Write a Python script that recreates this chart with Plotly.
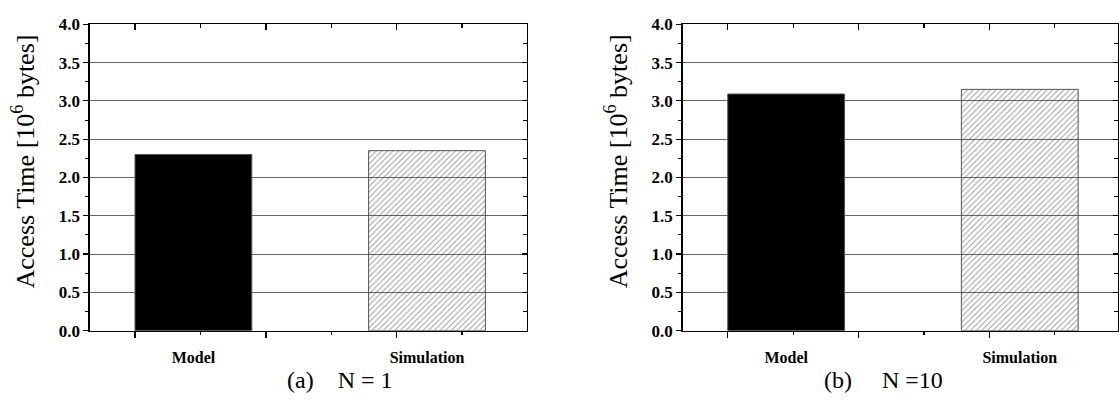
import plotly.graph_objects as go

# ---- data ----
categories = ["Model", "Simulation"]
cat_pos = [1, 2]
values_n1 = [2.30, 2.35]
values_n10 = [3.09, 3.15]
captions = ["(a)\u00a0\u00a0\u00a0\u00a0N = 1", "(b)\u00a0\u00a0\u00a0\u00a0\u00a0N =10"]
y_title = "Access Time [10<sup>6</sup> bytes]"
y_major = [0.0, 0.5, 1.0, 1.5, 2.0, 2.5, 3.0, 3.5, 4.0]
y_minor = [0.25, 0.75, 1.25, 1.75, 2.25, 2.75, 3.25, 3.75]
x_major = [0.75, 1.31, 1.87, 2.43]
x_minor = [1.03, 1.59, 2.15]

W, H = 1119, 406
SERIF = "Liberation Serif"
PX_PER_UNIT = 233.8
X0 = 0.557

fig = go.Figure()

panels = [
    dict(vals=values_n1, left=90.0, right=527.0, cap=captions[0], capx=340),
    dict(vals=values_n10, left=683.3, right=1118.5, cap=captions[1], capx=884),
]
y_top_px, y_bot_px = 16.0, 337.5
ydom = [1 - y_bot_px / H, 1 - y_top_px / H]

for i, p in enumerate(panels):
    k = i + 1
    xa = "x" if k == 1 else "x2"
    ya = "y" if k == 1 else "y2"
    xl = f"x{k + 2}"   # tick marks overlay (bottom)
    xt = f"x{k + 4}"   # top mirror ticks
    yr = f"y{k + 2}"   # right mirror ticks
    xdom = [p["left"] / W, p["right"] / W]
    xr = [X0, X0 + (p["right"] - p["left"]) / PX_PER_UNIT]

    fig.add_trace(go.Bar(
        x=cat_pos, y=p["vals"], width=0.5, xaxis=xa, yaxis=ya,
        marker=dict(
            color=["black", "rgba(0,0,0,0)"],
            line=dict(color="#555555", width=1),
            pattern=dict(shape=["", "/"], fgcolor="#4a4a4a",
                         bgcolor="rgba(0,0,0,0)", size=4, solidity=0.28),
        ),
        showlegend=False, hoverinfo="skip",
    ))
    for ax_x, ax_y in [(xl, ya), (xt, ya), (xa, yr)]:
        fig.add_trace(go.Scatter(x=[], y=[], xaxis=ax_x, yaxis=ax_y,
                                 showlegend=False, hoverinfo="skip"))

    base_x = dict(domain=xdom, range=xr, anchor=ya, showgrid=False, zeroline=False,
                  fixedrange=True)
    base_y = dict(domain=ydom, range=[0, 4], zeroline=False, fixedrange=True)

    # bottom axis: category labels + frame line
    fig.layout[f"xaxis{'' if k == 1 else k}"] = dict(
        base_x, tickvals=cat_pos, ticktext=categories, ticks="",
        showline=True, linecolor="black", linewidth=1.6, mirror=True,
        tickfont=dict(family=SERIF, size=16, color="black", weight="bold"),
        ticklabelstandoff=11,
    )
    # bottom tick marks overlay
    fig.layout[f"xaxis{k + 2}"] = dict(
        base_x, overlaying=xa, side="bottom", tickvals=x_major, ticks="outside",
        ticklen=6, tickwidth=1.4, tickcolor="black", showticklabels=False,
        minor=dict(tickvals=x_minor, ticks="outside", ticklen=3.5, tickwidth=1.2,
                   tickcolor="black"),
        showline=False,
    )
    # top mirror tick marks (inside)
    fig.layout[f"xaxis{k + 4}"] = dict(
        base_x, overlaying=xa, side="top", tickvals=x_major, ticks="inside",
        ticklen=6, tickwidth=1.4, tickcolor="black", showticklabels=False,
        minor=dict(tickvals=x_minor, ticks="inside", ticklen=3.5, tickwidth=1.2,
                   tickcolor="black"),
        showline=False,
    )
    # left y axis
    fig.layout[f"yaxis{'' if k == 1 else k}"] = dict(
        base_y, anchor=xa, tickvals=y_major, tickformat=".1f", ticks="outside",
        ticklen=5, tickwidth=1.2, tickcolor="black",
        minor=dict(tickvals=y_minor, ticks="outside", ticklen=3, tickwidth=1,
                   tickcolor="black"),
        showgrid=True, gridcolor="#666666", gridwidth=1,
        showline=True, linecolor="black", linewidth=1.6, mirror=True,
        tickfont=dict(family=SERIF, size=17, color="black", weight="bold"),
    )
    # right mirror ticks (inside)
    fig.layout[f"yaxis{k + 2}"] = dict(
        base_y, anchor=xa, overlaying=ya, side="right", tickvals=y_major,
        ticks="inside", ticklen=5, tickwidth=1.2, tickcolor="black",
        showticklabels=False, showgrid=False, showline=False,
        minor=dict(tickvals=y_minor, ticks="inside", ticklen=4, tickwidth=1,
                   tickcolor="black"),
    )

    # y title and caption
    fig.add_annotation(text=y_title, textangle=-90, xref="paper", yref="paper",
                       x=(p["left"] - 66) / W, y=1 - 160 / H, showarrow=False,
                       xanchor="center", yanchor="middle",
                       font=dict(family=SERIF, size=26, color="black"))
    fig.add_annotation(text=p["cap"], xref="paper", yref="paper",
                       x=p["capx"] / W, y=1 - 389 / H, showarrow=False,
                       xanchor="center", yanchor="middle",
                       font=dict(family=SERIF, size=24, color="black"))

fig.update_layout(
    width=W, height=H, margin=dict(l=0, r=0, t=0, b=0),
    paper_bgcolor="white", plot_bgcolor="white", bargap=0,
)

fig.write_html(
    "out.html",
    config={"displayModeBar": False, "staticPlot": True},
    post_script="document.body.style.margin='0';document.body.style.overflow='hidden';",
)
